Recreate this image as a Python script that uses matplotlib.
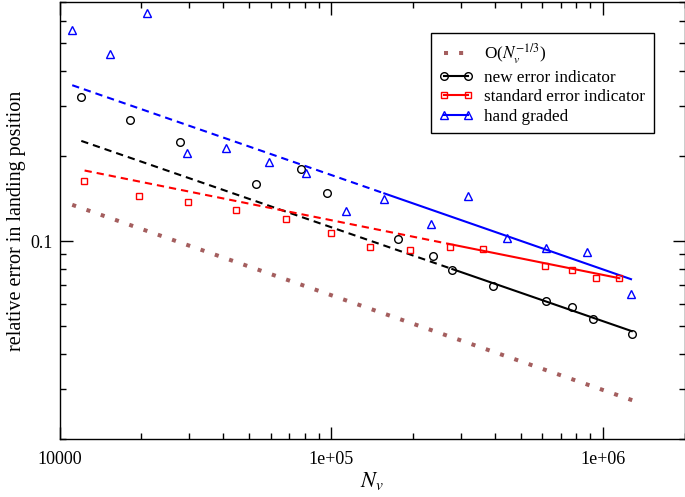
import numpy as np
import matplotlib
matplotlib.use("Agg")
import matplotlib.pyplot as plt

plt.rcParams['font.family'] = ['Liberation Serif', 'DejaVu Serif']
plt.rcParams['mathtext.fontset'] = 'stix'

# hand graded (blue triangles)
hand_N = [11140, 15350, 21050, 29400, 41120, 59070, 80820, 113200, 157000,
          233800, 318500, 443200, 618400, 873300, 1271000]
hand_err = [0.5566, 0.4579, 0.6375, 0.2051, 0.2127, 0.1906, 0.1743, 0.1276,
            0.1407, 0.1146, 0.1446, 0.1025, 0.0945, 0.0914, 0.0650]

# new error indicator (black circles)
new_N = [12030, 18180, 27780, 52770, 77290, 96830, 176800, 237800, 279400,
         395600, 618400, 773000, 919100, 1279000]
new_err = [0.3220, 0.2670, 0.2243, 0.1587, 0.1796, 0.1482, 0.1016, 0.0890,
           0.0792, 0.0693, 0.0617, 0.0586, 0.0529, 0.0469]

# standard error indicator (red squares)
std_N = [12310, 19570, 29650, 44660, 68410, 99660, 139400, 195700, 272800,
         363500, 614900, 770900, 944800, 1151000]
std_err = [0.1626, 0.1446, 0.1370, 0.1287, 0.1199, 0.1065, 0.0952, 0.0929,
           0.0954, 0.0935, 0.0816, 0.0788, 0.0744, 0.0740]

# fitted lines: dashed from first to second point, solid from second to third
hand_fit_N = [11140, 157000, 1271000]
hand_fit = [0.3557, 0.1475, 0.0734]
new_fit_N = [12030, 279400, 1279000]
new_fit = [0.2261, 0.0797, 0.0481]
std_fit_N = [12370, 272800, 1151000]
std_fit = [0.1777, 0.0977, 0.0740]

# O(N^-1/3) reference
ref_N = [11140, 1360000]
ref_err = [0.1344, 0.0269]

fig = plt.figure(figsize=(6.85, 4.97), dpi=100)
ax = fig.add_axes([59.5 / 685, 58 / 497, 625 / 685, 437 / 497])

dash = (0, (3.5, 2.4))
lw = 1.5

ax.plot(ref_N, ref_err, color='#a45e5e', lw=2.9, linestyle=(0, (1, 2.75)),
        dash_capstyle='butt', label=r'O($N_v^{-1/3}$)')

for fx, fy, c in [(hand_fit_N, hand_fit, 'blue'),
                  (new_fit_N, new_fit, 'black'),
                  (std_fit_N, std_fit, 'red')]:
    ax.plot(fx[:2], fy[:2], color=c, lw=lw, linestyle=dash)
    ax.plot(fx[1:], fy[1:], color=c, lw=lw)

ax.plot(new_N, new_err, 'o', mfc='none', mec='black', ms=5.5, mew=1.0)
ax.plot(std_N, std_err, 's', mfc='none', mec='red', ms=5.0, mew=1.0)
ax.plot(hand_N, hand_err, '^', mfc='none', mec='blue', ms=5.5, mew=1.0)

# legend proxies
ax.plot([], [], 'o-', color='black', mfc='none', ms=5.5, mew=1.0, lw=lw,
        label='new error indicator')
ax.plot([], [], 's-', color='red', mfc='none', ms=5.0, mew=1.0, lw=lw,
        label='standard error indicator')
ax.plot([], [], '^-', color='blue', mfc='none', ms=5.5, mew=1.0, lw=lw,
        label='hand graded')

ax.set_xscale('log')
ax.set_yscale('log')
ax.set_xlim(1e4, 2e6)
ax.set_ylim(0.02, 0.7)

ax.set_xticks([1e4, 1e5, 1e6])
ax.set_xticklabels(['10000', '1e+05', '1e+06'])
ax.set_yticks([0.1])
ax.set_yticklabels(['0.1'])
ax.yaxis.set_minor_formatter(matplotlib.ticker.NullFormatter())
ax.xaxis.set_minor_formatter(matplotlib.ticker.NullFormatter())

ax.tick_params(which='both', direction='in', top=True, right=True,
               labelsize=13, width=1.0)
ax.tick_params(which='major', length=9, pad=9)
ax.tick_params(which='minor', length=4.2)
ax.tick_params(axis='y', which='major', pad=5)
for s in ax.spines.values():
    s.set_linewidth(1.0)

ax.set_xlabel(r'$N_v$', fontsize=16, labelpad=1)
ax.set_ylabel('relative error in landing position', fontsize=14.5, labelpad=3)

leg = ax.legend(loc='upper right',
                bbox_to_anchor=((654 - 59.5) / 625, 1 - 31 / 437),
                borderaxespad=0, fontsize=12.3, numpoints=2,
                handlelength=2.0, handletextpad=0.65,
                fancybox=False, framealpha=1, edgecolor='black',
                borderpad=0.5, labelspacing=0.2)
leg.get_frame().set_linewidth(1.0)

fig.savefig('out.png', dpi=100)
